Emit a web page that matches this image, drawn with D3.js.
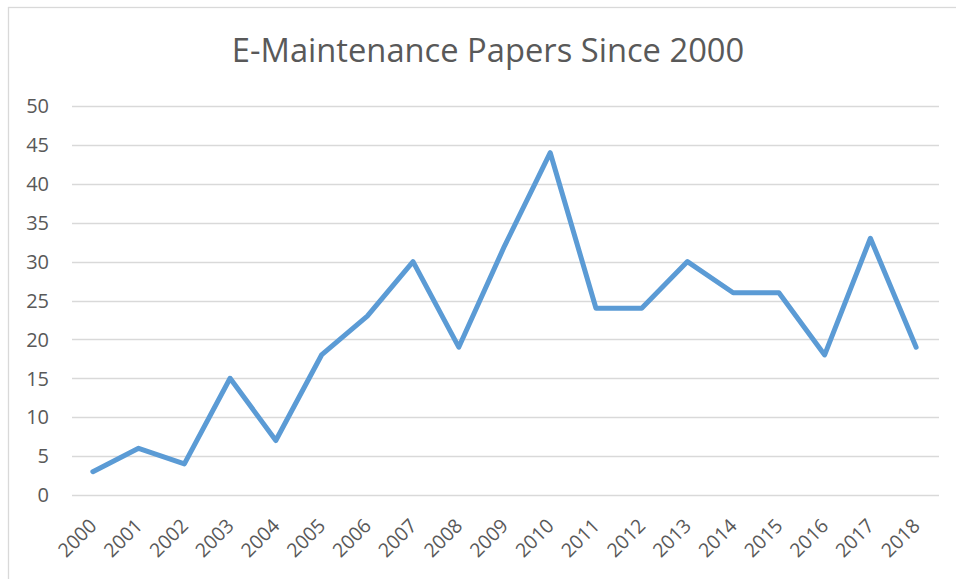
<!DOCTYPE html>
<html>
<head>
<meta charset="utf-8">
<script src="https://cdn.jsdelivr.net/npm/d3@7"></script>
<style>
  body { margin: 0; background: #fff; }
  text { font-family: "Open Sans", "Noto Sans", sans-serif; fill: #595959; }
</style>
</head>
<body>
<svg width="956" height="579"></svg>
<script>
var years = ["2000", "2001", "2002", "2003", "2004", "2005", "2006", "2007", "2008", "2009",
             "2010", "2011", "2012", "2013", "2014", "2015", "2016", "2017", "2018"];
var papers = [3, 6, 4, 15, 7, 18, 23, 30, 19, 32, 44, 24, 24, 30, 26, 26, 18, 33, 19];
var yTicks = [0, 5, 10, 15, 20, 25, 30, 35, 40, 45, 50];
var title = "E-Maintenance Papers Since 2000";

var svg = d3.select("svg"),
    width = +svg.attr("width"),
    height = +svg.attr("height");

var margin = {left: 70, right: 17, top: 106, bottom: 84};

// chart frame (only top and left edges fall inside the picture)
svg.append("rect")
    .attr("x", 8.5).attr("y", 7.5)
    .attr("width", width + 20).attr("height", height + 20)
    .attr("fill", "#fff")
    .attr("stroke", "#d9d9d9")
    .attr("stroke-width", 1.3);

var x = d3.scaleBand()
    .domain(years)
    .range([margin.left, width - margin.right]);

var y = d3.scaleLinear()
    .domain([0, 50])
    .range([height - margin.bottom, margin.top]);

// gridlines
svg.append("g")
  .selectAll("line")
    .data(yTicks)
  .enter().append("line")
    .attr("x1", margin.left + 2).attr("x2", width - margin.right)
    .attr("y1", function(d) { return Math.round(y(d)) + 0.5; })
    .attr("y2", function(d) { return Math.round(y(d)) + 0.5; })
    .attr("stroke", "#d9d9d9")
    .attr("stroke-width", 1.3);

// y labels
svg.append("g")
  .selectAll("text")
    .data(yTicks)
  .enter().append("text")
    .attr("x", 49)
    .attr("y", function(d) { return y(d); })
    .attr("dy", "0.36em")
    .attr("text-anchor", "end")
    .style("font-size", "20px")
    .text(function(d) { return d; });

// x labels
svg.append("g")
  .selectAll("text")
    .data(years)
  .enter().append("text")
    .attr("transform", function(d) {
      return "translate(" + (x(d) + x.bandwidth() / 2 + 5) + "," + 527 + ") rotate(-45)";
    })
    .attr("text-anchor", "end")
    .style("font-size", "19.5px")
    .text(function(d) { return d; });

var line = d3.line()
    .x(function(d, i) { return x(years[i]) + x.bandwidth() / 2; })
    .y(function(d) { return y(d); });

svg.append("path")
    .datum(papers)
    .attr("d", line)
    .attr("fill", "none")
    .attr("stroke", "#5b9bd5")
    .attr("stroke-width", 5)
    .attr("stroke-linejoin", "round")
    .attr("stroke-linecap", "round");

var t = svg.append("text")
    .attr("x", 488)
    .attr("y", 51)
    .attr("dy", "0.35em")
    .attr("text-anchor", "middle")
    .style("font-size", "28px")
    .text(title);
// scale title to match reference width
var w = t.node().getComputedTextLength();
t.style("font-size", (28 * 513 / w).toFixed(1) + "px");
</script>
</body>
</html>
